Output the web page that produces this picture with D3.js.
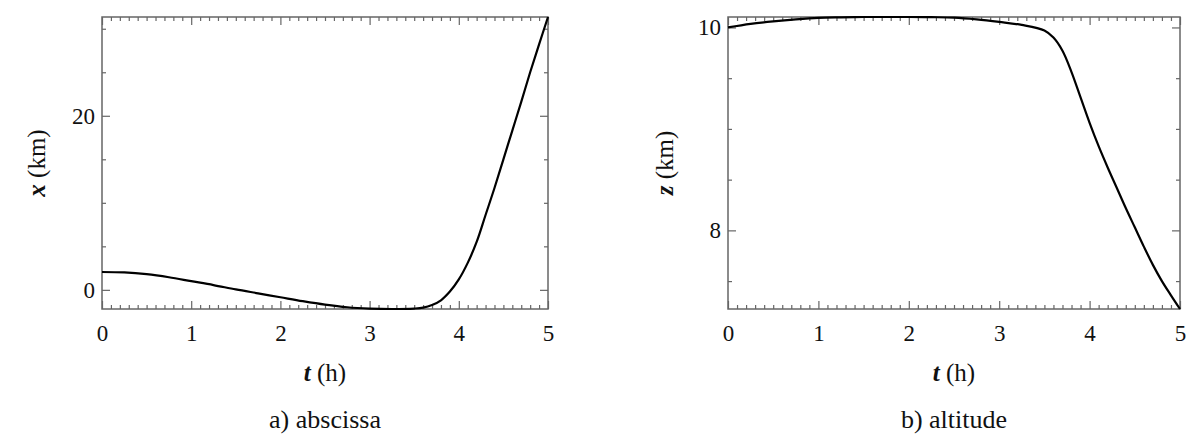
<!DOCTYPE html>
<html>
<head>
<meta charset="utf-8">
<script src="https://cdn.jsdelivr.net/npm/d3@7"></script>
<style>
  body { margin: 0; background: #fff; font-family: 'Liberation Serif', 'Times New Roman', serif; }
  svg text, svg tspan { font-family: 'Liberation Serif', 'Times New Roman', serif !important; }
</style>
</head>
<body>
<svg id="chart" width="1200" height="447"></svg>
<script>
// time samples (h)
const timeH = [0, 0.25, 0.5, 0.75, 1, 1.25, 1.5, 1.75, 2, 2.25, 2.5, 2.75, 3, 3.25, 3.5,
  3.6, 3.7, 3.8, 3.9, 4, 4.1, 4.2, 4.3, 4.4, 4.5, 4.6, 4.7, 4.8, 4.9, 5];
// abscissa x (km)
const abscissaKm = [2.05, 2.0, 1.8, 1.45, 1.0, 0.55, 0.05, -0.4, -0.85, -1.3, -1.7, -2.0, -2.15, -2.2, -2.15,
  -2.05, -1.75, -1.2, -0.2, 1.2, 3.1, 5.5, 8.6, 11.7, 15.0, 18.3, 21.6, 25.0, 28.2, 31.35];
// altitude z (km)
const altitudeKm = [10.0, 10.035, 10.06, 10.08, 10.095, 10.1, 10.103, 10.103, 10.103, 10.101, 10.097, 10.08, 10.055, 10.025, 9.97,
  9.9, 9.77, 9.56, 9.31, 9.06, 8.83, 8.62, 8.42, 8.22, 8.03, 7.84, 7.66, 7.5, 7.36, 7.225];

// tick labels
const tTicks = [0, 1, 2, 3, 4, 5];
const xTicks = [0, 20];
const zTicks = [8, 10];
const xMinorStep = 5;
const zMinorStep = 0.5;
const tMinorStep = 0.1;

const plotTop = 17, plotBottom = 309;

const svg = d3.select('#chart');

function range(a, b, step) {
  // ticks between a and b on a step grid
  const out = [];
  const n0 = Math.ceil(a / step - 1e-9), n1 = Math.floor(b / step + 1e-9);
  for (let k = n0; k <= n1; k++) out.push(+(k * step).toFixed(6));
  return out;
}

function drawPanel(p) {
  const x = d3.scaleLinear().domain([0, 5]).range([p.left, p.right]);
  const y = d3.scaleLinear().domain(d3.extent(p.values)).range([plotBottom, plotTop]);
  const g = svg.append('g');

  const tMinor = range(0, 5, tMinorStep).filter(v => !tTicks.includes(v));
  const yMinor = range(y.domain()[0], y.domain()[1], p.minorStep).filter(v => !p.ticks.includes(v));

  const styleAxis = sel => {
    sel.attr('font-family', null).attr('font-size', null);
    sel.select('.domain').remove();
    sel.selectAll('line').attr('stroke', '#666').attr('stroke-width', 1.2);
    sel.selectAll('text').attr('fill', '#111').style('font-size', '23px');
  };

  // minor ticks on all four sides
  g.append('g').attr('transform', `translate(0,${plotBottom})`)
    .call(d3.axisBottom(x).tickValues(tMinor).tickSize(-4).tickFormat(''))
    .call(styleAxis);
  g.append('g').attr('transform', `translate(0,${plotTop})`)
    .call(d3.axisTop(x).tickValues(tMinor).tickSize(-4).tickFormat(''))
    .call(styleAxis);
  g.append('g').attr('transform', `translate(${p.left},0)`)
    .call(d3.axisLeft(y).tickValues(yMinor).tickSize(-4).tickFormat(''))
    .call(styleAxis);
  g.append('g').attr('transform', `translate(${p.right},0)`)
    .call(d3.axisRight(y).tickValues(yMinor).tickSize(-4).tickFormat(''))
    .call(styleAxis);

  // major ticks
  g.append('g').attr('transform', `translate(0,${plotBottom})`)
    .call(d3.axisBottom(x).tickValues(tTicks).tickSize(-8).tickPadding(16).tickFormat(d3.format('d')))
    .call(styleAxis);
  g.append('g').attr('transform', `translate(0,${plotTop})`)
    .call(d3.axisTop(x).tickValues(tTicks).tickSize(-8).tickFormat(''))
    .call(styleAxis);
  g.append('g').attr('transform', `translate(${p.left},0)`)
    .call(d3.axisLeft(y).tickValues(p.ticks).tickSize(-8).tickPadding(7).tickFormat(d3.format('d')))
    .call(styleAxis);
  g.append('g').attr('transform', `translate(${p.right},0)`)
    .call(d3.axisRight(y).tickValues(p.ticks).tickSize(-8).tickFormat(''))
    .call(styleAxis);

  // frame
  g.append('rect')
    .attr('x', p.left).attr('y', plotTop)
    .attr('width', p.right - p.left).attr('height', plotBottom - plotTop)
    .attr('fill', 'none')
    .attr('stroke', '#666')
    .attr('stroke-width', 1.5);

  // curve
  const line = d3.line()
    .x((d, i) => x(timeH[i]))
    .y(d => y(d))
    .curve(d3.curveCatmullRom.alpha(0.5));

  g.append('path')
    .datum(p.values)
    .attr('d', line)
    .attr('fill', 'none')
    .attr('stroke', '#000')
    .attr('stroke-width', 2.2);

  // axis titles
  const cx = (p.left + p.right) / 2;
  const tl = g.append('text')
    .attr('x', cx).attr('y', 381)
    .attr('text-anchor', 'middle')
    .attr('fill', '#111')
    .style('font-size', '25px');
  tl.append('tspan').text('t').style('font-weight', 'bold').style('font-style', 'italic');
  tl.append('tspan').text(' (h)');

  const yl = g.append('text')
    .attr('transform', `translate(${p.yLabelX},${(plotTop + plotBottom) / 2}) rotate(-90)`)
    .attr('text-anchor', 'middle')
    .attr('fill', '#111')
    .style('font-size', '25px');
  yl.append('tspan').text(p.symbol).style('font-weight', 'bold').style('font-style', 'italic');
  yl.append('tspan').text(' (km)');

  // caption
  g.append('text')
    .attr('x', cx).attr('y', 428)
    .attr('text-anchor', 'middle')
    .attr('fill', '#111')
    .style('font-size', '26px')
    .text(p.caption);
}

drawPanel({ left: 102, right: 548, values: abscissaKm, ticks: xTicks, minorStep: xMinorStep,
  symbol: 'x', yLabelX: 45, caption: 'a) abscissa' });
drawPanel({ left: 728, right: 1180, values: altitudeKm, ticks: zTicks, minorStep: zMinorStep,
  symbol: 'z', yLabelX: 673, caption: 'b) altitude' });
</script>
</body>
</html>
